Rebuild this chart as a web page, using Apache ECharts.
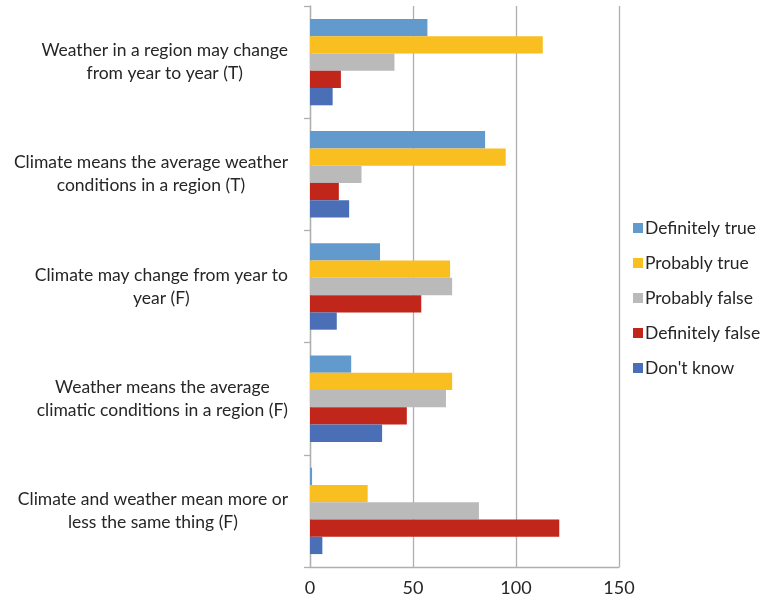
<!DOCTYPE html>
<html>
<head>
<meta charset="utf-8">
<script src="https://cdn.jsdelivr.net/npm/echarts@6/dist/echarts.min.js"></script>
<style>
  html, body { margin: 0; padding: 0; background: #ffffff; }
  #chart { width: 763px; height: 605px; }
</style>
</head>
<body>
<div id="chart"></div>
<script>
// Statements (two display lines each), top to bottom
const statements = [
  ['Weather in a region may change', 'from year to year (T)'],
  ['Climate means the average weather', 'conditions in a region (T)'],
  ['Climate may change from year to', 'year (F)'],
  ['Weather means the average', 'climatic conditions in a region (F)'],
  ['Climate and weather mean more or', 'less the same thing (F)']
];

// Response counts per statement
const definitelyTrue  = [57, 85, 34, 20, 1];
const probablyTrue    = [113, 95, 68, 69, 28];
const probablyFalse   = [41, 25, 69, 66, 82];
const definitelyFalse = [15, 14, 54, 47, 121];
const dontKnow        = [11, 19, 13, 35, 6];

const responseNames = ['Definitely true', 'Probably true', 'Probably false', 'Definitely false', "Don't know"];
const responseValues = [definitelyTrue, probablyTrue, probablyFalse, definitelyFalse, dontKnow];
const responseColors = ['#639ACD', '#F9BE20', '#BABABA', '#C0261A', '#4A6FB6'];

const xTicks = [0, 50, 100, 150];

const fontFamily = 'Lato, "Open Sans", sans-serif';
const textColor = '#262626';
const gridColor = '#AFAFAF';

const chart = echarts.init(document.getElementById('chart'), null, { renderer: 'canvas' });

chart.setOption({
  animation: false,
  backgroundColor: '#ffffff',
  textStyle: { fontFamily: fontFamily },
  grid: { left: 310, right: 144, top: 6, bottom: 38, containLabel: false },
  legend: {
    orient: 'vertical',
    left: 628,
    top: 214,
    itemGap: 17,
    itemWidth: 10,
    itemHeight: 10,
    icon: 'rect',
    textStyle: { fontFamily: fontFamily, fontSize: 17.5, color: textColor, padding: [0, 0, 0, -3] },
    data: responseNames
  },
  xAxis: {
    type: 'value',
    min: xTicks[0],
    max: xTicks[xTicks.length - 1],
    interval: 50,
    axisLine: { show: true, lineStyle: { color: gridColor, width: 1.3 } },
    axisTick: { show: false },
    splitLine: { show: true, lineStyle: { color: gridColor, width: 1.3 } },
    axisLabel: { margin: 12, fontSize: 18, color: textColor, fontFamily: fontFamily }
  },
  yAxis: {
    type: 'category',
    inverse: true,
    data: statements.map(s => s.join('\n')),
    axisLine: { show: true, lineStyle: { color: gridColor, width: 1.3 } },
    axisTick: { show: true, length: 6, lineStyle: { color: gridColor, width: 1.3 } },
    axisLabel: {
      margin: 22,
      fontFamily: fontFamily,
      fontSize: 17.5,
      color: textColor,
      lineHeight: 23,
      formatter: function (v) {
        return v.split('\n').map(l => '{c|' + l + '}').join('\n');
      },
      rich: {
        c: { align: 'center', fontFamily: fontFamily, fontSize: 17.5, color: textColor, lineHeight: 23 }
      }
    }
  },
  series: responseNames.map((name, i) => ({
    name: name,
    type: 'bar',
    data: responseValues[i],
    barGap: '0%',
    barCategoryGap: '23%',
    itemStyle: { color: responseColors[i] }
  }))
});
</script>
</body>
</html>
